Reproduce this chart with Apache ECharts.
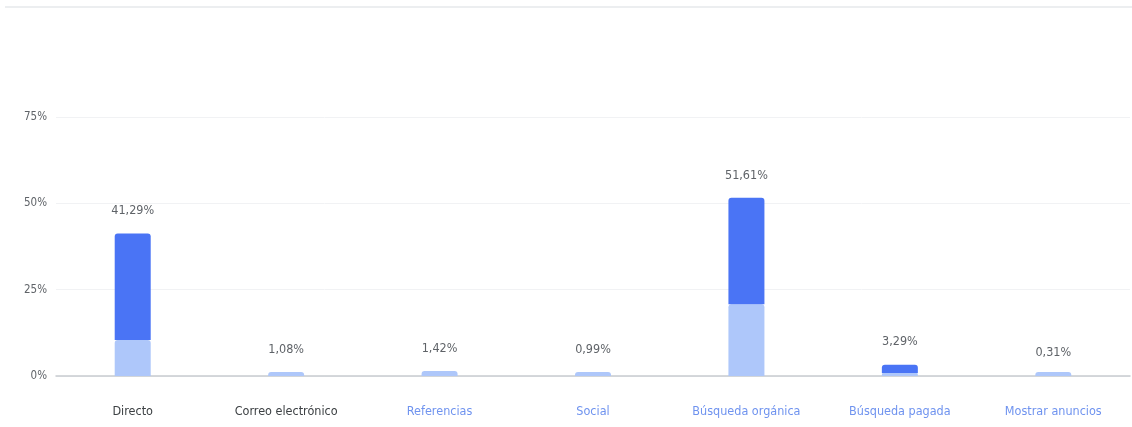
<!DOCTYPE html>
<html>
<head>
<meta charset="utf-8">
<script src="https://cdn.jsdelivr.net/npm/echarts@6/dist/echarts.min.js"></script>
<style>
  html, body { margin: 0; padding: 0; background: #fff; }
  #chart { width: 1132px; height: 427px; }
</style>
</head>
<body>
<div id="chart"></div>
<script>
    // canales de tráfico
    const categories = ["Directo", "Correo electrónico", "Referencias", "Social", "Búsqueda orgánica", "Búsqueda pagada", "Mostrar anuncios"];
    const baseValues = [10.4, 1.08, 1.42, 0.99, 20.8, 0.9, 0.31];
    const topValues = [30.89, 0, 0, 0, 30.81, 2.39, 0];
    const totals = [41.29, 1.08, 1.42, 0.99, 51.61, 3.29, 0.31];
    const yTicks = [0, 25, 50, 75];

    let chart = echarts.init(document.querySelector("#chart"));
    const font = "'Liberation Sans Narrow', 'DejaVu Sans Condensed', Roboto, sans-serif";

    let option = {
        animation: false,
        grid: {
            left: 56,
            right: 2,
            top: 117,
            bottom: 51
        },
        graphic: [
            {
                type: 'line',
                shape: { x1: 5, y1: 7, x2: 1132, y2: 7 },
                style: { stroke: '#e6e8eb', lineWidth: 1.5 }
            }
        ],
        xAxis: {
            type: 'category',
            data: categories,
            axisTick: { show: false },
            axisLine: { lineStyle: { color: '#c8cbd0', width: 1.5 } },
            axisLabel: {
                interval: 0,
                margin: 29,
                fontSize: 12.5,
                fontFamily: font,
                // los dos primeros no son enlaces
                color: function (value) {
                    return categories.indexOf(value) < 2 ? '#3c4043' : '#6f93ef';
                }
            }
        },
        yAxis: {
            type: 'value',
            min: yTicks[0],
            max: yTicks[yTicks.length - 1],
            interval: yTicks[1] - yTicks[0],
            axisLine: { show: false },
            axisTick: { show: false },
            splitLine: { lineStyle: { color: '#f1f2f4' } },
            axisLabel: {
                margin: 9,
                fontSize: 11.5,
                fontFamily: font,
                color: '#5f6368',
                formatter: '{value}%'
            }
        },
        series: [
            {
                name: 'base',
                type: 'bar',
                stack: 'total',
                barWidth: 36,
                barMinHeight: 4,
                data: baseValues,
                itemStyle: {
                    color: '#aec7fa',
                    borderRadius: [3, 3, 0, 0]
                }
            },
            {
                name: 'top',
                type: 'bar',
                stack: 'total',
                barWidth: 36,
                data: topValues,
                itemStyle: {
                    color: '#4a74f5',
                    borderRadius: [3, 3, 0, 0]
                },
                label: {
                    show: true,
                    position: 'top',
                    distance: 16,
                    fontSize: 12.5,
                    fontFamily: font,
                    color: '#5f6368',
                    formatter: function (params) {
                        return totals[params.dataIndex].toFixed(2).replace('.', ',') + '%';
                    }
                }
            }
        ]
    };

    chart.setOption(option);
    window.addEventListener('resize', () => chart.resize());
</script>
</body>
</html>
